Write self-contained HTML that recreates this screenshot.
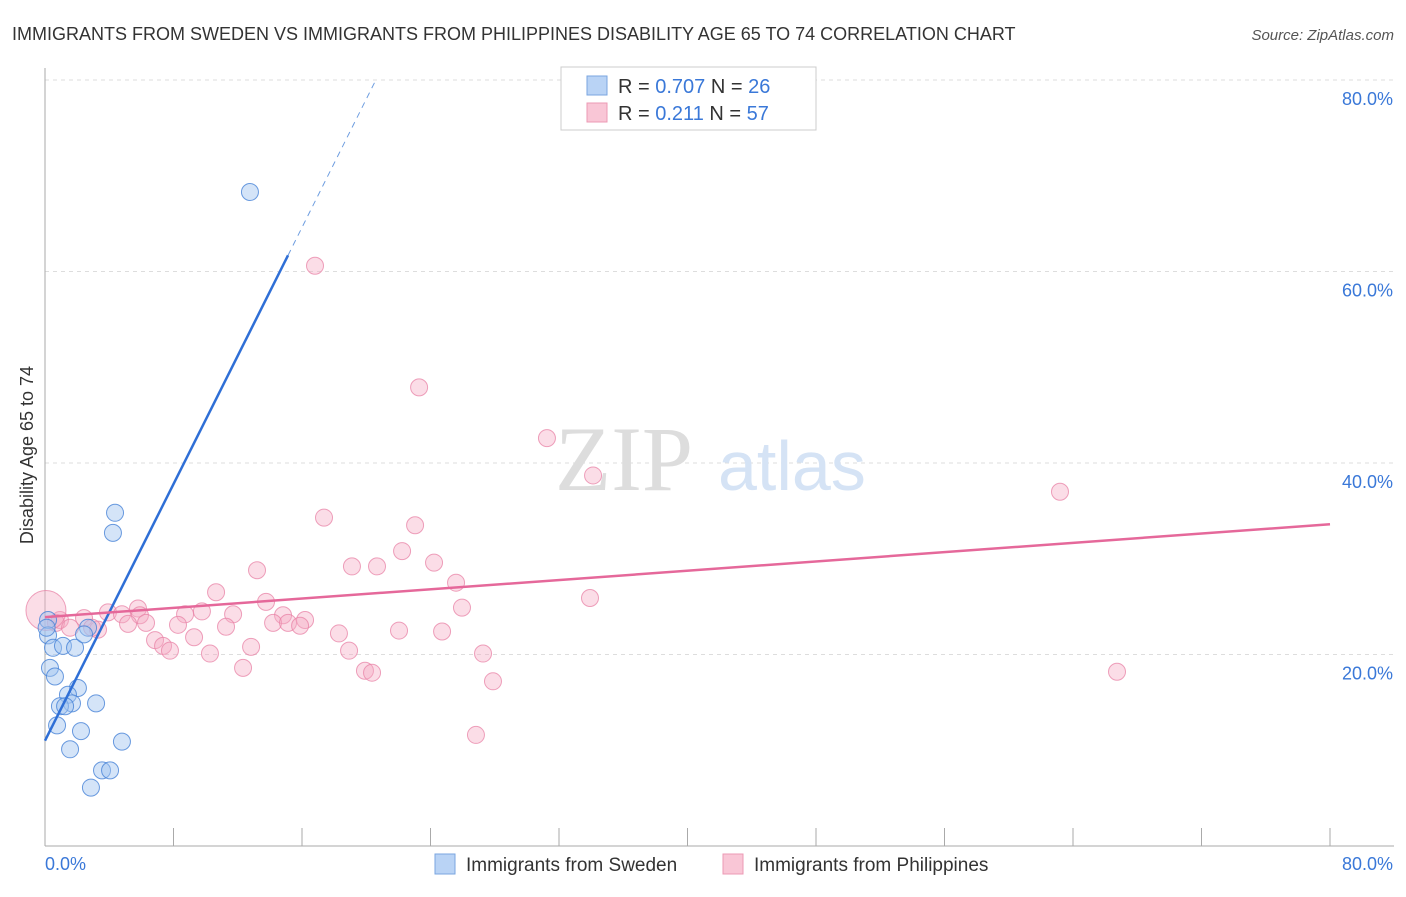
<!DOCTYPE html>
<html><head><meta charset="utf-8"><style>
body{margin:0;background:#fff;font-family:"Liberation Sans",sans-serif;}
</style></head><body>
<svg width="1406" height="892" xmlns="http://www.w3.org/2000/svg" font-family="Liberation Sans, sans-serif">
<text x="12" y="40" font-size="18" fill="#333">IMMIGRANTS FROM SWEDEN VS IMMIGRANTS FROM PHILIPPINES DISABILITY AGE 65 TO 74 CORRELATION CHART</text>
<text x="1394" y="40" font-size="15" fill="#555" font-style="italic" text-anchor="end">Source: ZipAtlas.com</text>
<g id="grid"></g>
<text x="555" y="490" font-size="92" fill="#ddd" font-family="Liberation Serif, serif">ZIP</text>
<text x="718" y="490" font-size="70" fill="#d5e3f5">atlas</text>
<g id="axes"></g>
<text transform="translate(33,455) rotate(-90)" font-size="18" fill="#333" text-anchor="middle">Disability Age 65 to 74</text>
<g id="marks"></g>
<g>
<rect x="561" y="67" width="255" height="63" fill="#fff" stroke="#ccc"/>
<rect x="587" y="76" width="20" height="19" fill="#b9d3f5" stroke="#7aa6e0"/>
<rect x="587" y="103" width="20" height="19" fill="#f9c6d6" stroke="#ec9ab4"/>
<text x="618" y="93" font-size="20" fill="#333">R = <tspan fill="#3a78d8">0.707</tspan>   N = <tspan fill="#3a78d8">26</tspan></text>
<text x="618" y="120" font-size="20" fill="#333">R =  <tspan fill="#3a78d8">0.211</tspan>   N = <tspan fill="#3a78d8">57</tspan></text>
</g>
<g>
<rect x="435" y="854" width="20" height="20" fill="#b9d3f5" stroke="#7aa6e0"/>
<text x="466" y="871" font-size="19" fill="#333">Immigrants from Sweden</text>
<rect x="723" y="854" width="20" height="20" fill="#f9c6d6" stroke="#ec9ab4"/>
<text x="754" y="871" font-size="19" fill="#333">Immigrants from Philippines</text>
</g>
</svg>
<script>
const yTicks=[20,40,60,80];
const yTickLabels=["20.0%","40.0%","60.0%","80.0%"];
const xTicks=[0,8,16,24,32,40,48,56,64,72,80];
const swedenX=[12.76,4.36,4.23,0.19,0.19,0.50,1.12,1.87,0.31,0.62,2.68,2.43,2.05,1.43,1.68,0.93,1.25,3.18,0.75,2.24,1.56,4.79,3.55,4.05,2.86,0.1];
const swedenY=[68.3,34.8,32.7,23.6,22.0,20.7,20.9,20.7,18.6,17.7,22.8,22.1,16.5,15.8,14.9,14.6,14.6,14.9,12.6,12.0,10.1,10.9,7.9,7.9,6.1,22.8];
const philX=[16.81,23.29,31.25,34.12,63.19,66.74,17.37,23.04,22.23,19.11,20.67,24.22,13.20,10.65,25.59,33.93,13.76,25.96,5.79,3.92,4.79,2.43,5.91,8.72,9.77,11.71,14.82,16.19,14.20,15.13,15.88,6.29,8.28,5.17,3.30,0.93,0.68,11.27,22.04,24.72,18.30,6.85,7.35,9.28,7.78,12.83,10.27,18.93,27.27,12.33,19.92,20.36,27.89,26.83,2.93,1.56,0.06];
const philY=[60.6,47.9,42.6,38.7,37.0,18.2,34.3,33.5,30.8,29.2,29.2,29.6,28.8,26.5,27.5,25.9,25.5,24.9,24.8,24.4,24.2,23.8,24.1,24.2,24.5,24.2,24.1,23.6,23.3,23.3,23.0,23.3,23.1,23.2,22.6,23.6,23.3,22.9,22.5,22.4,22.2,21.5,20.9,21.8,20.4,20.8,20.1,20.4,20.1,18.6,18.3,18.1,17.2,11.6,22.8,22.8,24.6];
const swedenTrend=[11.0,3.35]; // intercept, slope
const philTrend=[23.9,33.6]; // y at x=0, y at x=80
const NS="http://www.w3.org/2000/svg";
const X=v=>45+v/80*1285, Y=v=>846-v/20*191.5;
function mk(p,tag,a){const e=document.createElementNS(NS,tag);for(const k in a)e.setAttribute(k,a[k]);p.appendChild(e);return e;}
const grid=document.getElementById('grid'),axes=document.getElementById('axes'),marks=document.getElementById('marks');
yTicks.forEach((t,i)=>{
 const l=mk(grid,'line',{x1:45,x2:1394,y1:Y(t),y2:Y(t),stroke:'#ddd','stroke-dasharray':'4,4'});
 
 
 const tx=mk(axes,'text',{x:1393,y:Y(t)+25,'font-size':18,fill:'#3a78d8','text-anchor':'end'});
 tx.textContent=yTickLabels[i];
 
 
});
mk(axes,'line',{x1:45,x2:45,y1:68,y2:846,stroke:'#aaa'});
mk(axes,'line',{x1:45,x2:1394,y1:846,y2:846,stroke:'#aaa'});
xTicks.forEach(t=>{const l=mk(axes,'line',{x1:X(t),x2:X(t),y1:828,y2:846,stroke:'#aaa'});
 
 });
let a=mk(axes,'text',{x:45,y:870,'font-size':18,fill:'#3a78d8'});a.textContent='0.0%';

a=mk(axes,'text',{x:1393,y:870,'font-size':18,fill:'#3a78d8','text-anchor':'end'});a.textContent='80.0%';

philX.forEach((x,i)=>{const c=mk(marks,'circle',{cx:X(x),cy:Y(philY[i]),r:i==philX.length-1?20:8.5,fill:'rgba(246,170,195,0.4)',stroke:'rgba(232,130,165,0.75)','stroke-width':1});
 
 });
swedenX.forEach((x,i)=>{const c=mk(marks,'circle',{cx:X(x),cy:Y(swedenY[i]),r:8.5,fill:'rgba(160,196,240,0.45)',stroke:'rgba(70,130,215,0.8)','stroke-width':1});
 
 });
const xs=15.13,xe=(80-swedenTrend[0])/swedenTrend[1];
let t=mk(marks,'line',{x1:X(0),y1:Y(swedenTrend[0]),x2:X(xs),y2:Y(swedenTrend[0]+swedenTrend[1]*xs),stroke:'#2f6fd6','stroke-width':2.5});

t=mk(marks,'line',{x1:X(xs),y1:Y(swedenTrend[0]+swedenTrend[1]*xs),x2:X(xe),y2:Y(80),stroke:'#6f9ee0','stroke-width':1,'stroke-dasharray':'6,5'});

t=mk(marks,'line',{x1:X(0),y1:Y(philTrend[0]),x2:X(80),y2:Y(philTrend[1]),stroke:'#e5689a','stroke-width':2.5});

</script>
</body></html>
